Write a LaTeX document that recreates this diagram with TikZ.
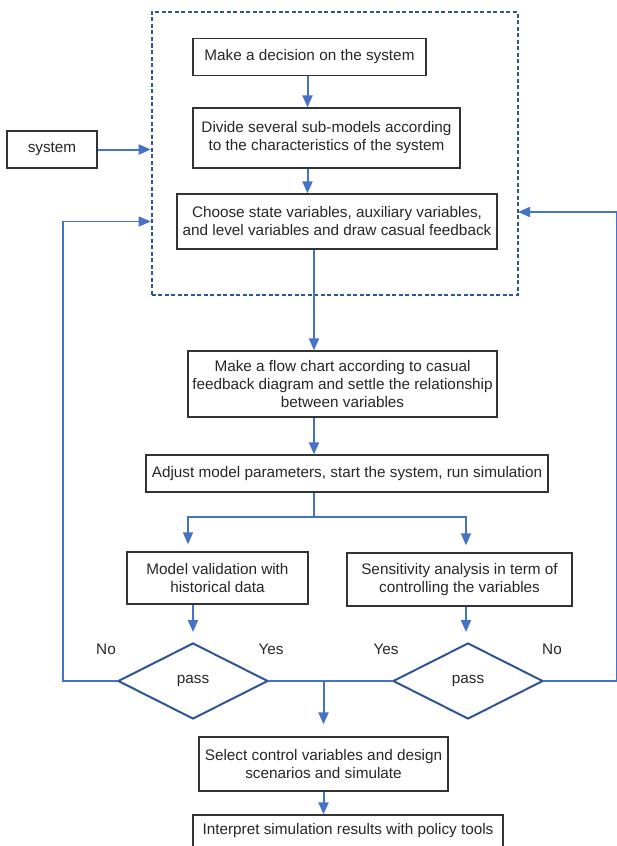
\documentclass[tikz,border=0pt]{standalone}
\usepackage{fontspec}
\setmainfont{Liberation Sans}
\usetikzlibrary{arrows.meta,shapes.geometric,calc}
\definecolor{arrblue}{HTML}{4472C4}
\definecolor{darkblue}{HTML}{2F5597}
\definecolor{txt}{HTML}{262626}
\begin{document}
\begin{tikzpicture}[x=1pt,y=-1pt,
  font=\fontsize{15.3}{18}\selectfont,
  box/.style={draw=black!80,line width=1.3pt,align=center,inner sep=0pt,text=txt},
  arr/.style={draw=arrblue,line width=2pt,-{Triangle[length=12pt,width=10pt]}},
  thin/.style={draw=arrblue,line width=1.4pt},
  thinarr/.style={thin,-{Triangle[length=12pt,width=10pt]}},
  dec/.style={draw=darkblue,line width=2pt,diamond,shape aspect=1.97,minimum width=150pt,minimum height=76pt,inner sep=0pt,text=txt},
  lbl/.style={text=txt,inner sep=0pt}]
\useasboundingbox (0,0) rectangle (616,846);
\node[draw=darkblue,line width=2pt,dash pattern=on 4pt off 2.5pt,minimum width=366pt,minimum height=283pt,inner sep=0pt] (frame) at (334.7,153.5) {};
\node[box,minimum width=233pt,minimum height=37pt] (b1) at (309.5,57) {Make a decision on the system};
\node[box,minimum width=267pt,minimum height=60pt] (b2) at (326.5,138) {Divide several sub-models according\\to the characteristics of the system};
\node[box,minimum width=320pt,minimum height=55pt] (b3) at (337,221.5) {Choose state variables, auxiliary variables,\\and level variables and draw casual feedback};
\node[box,minimum width=90pt,minimum height=37pt] (sys) at (52,149.5) {system};
\node[box,minimum width=309pt,minimum height=66pt] (b4) at (342.5,384) {Make a flow chart according to casual\\feedback diagram and settle the relationship\\between variables};
\node[box,minimum width=402pt,minimum height=37pt] (b5) at (347,473.5) {Adjust model parameters, start the system, run simulation};
\node[box,minimum width=181pt,minimum height=52pt] (b6) at (217.5,578) {Model validation with\\historical data};
\node[box,minimum width=225pt,minimum height=53pt] (b7) at (459.5,579.5) {Sensitivity analysis in term of\\controlling the variables};
\node[dec] (d1) at (193,681) {pass};
\node[dec] (d2) at (468,681) {pass};
\node[box,minimum width=249pt,minimum height=54pt] (b8) at (323.5,764) {Select control variables and design\\scenarios and simulate};
\node[box,minimum width=310pt,minimum height=32pt] (b9) at (348,831) {Interpret simulation results with policy tools};
\node[lbl] (no1) at (106,649) {No};
\node[lbl] (yes1) at (271,649) {Yes};
\node[lbl] (yes2) at (386,649) {Yes};
\node[lbl] (no2) at (552,649) {No};
\coordinate (split) at (314,517);
\coordinate (rin) at (518,212);
% connectors
\draw[arr] (b1.south -| 307.5,0) -- (b2.north -| 307.5,0);
\draw[arr] (b2.south -| 307.5,0) -- (b3.north -| 307.5,0);
\draw[arr] (b3.south -| split) -- (b4.north -| split);
\draw[arr] (b4.south -| split) -- (b5.north -| split);
\draw[arr] (sys.east) -- (frame.west |- sys.east);
\draw[thin] (b5.south -| split) -- (split);
\draw[thinarr] (split) -| ($(b6.north -| 188,0)+(0,-7)$);
\draw[thinarr] (split) -| ($(b7.north -| 466,0)+(0,-7)$);
\draw[arr,shorten >=10pt] (d1.north |- b6.south) -- (d1.north);
\draw[arr,shorten >=10pt] (b7.south -| 466,0) -- (d2.north -| 466,0);
\draw[thin] (d1.east) -- (d2.west);
\draw[arr,shorten >=12pt] (d1.east -| 323.5,0) -- (b8.north);
\draw[arr] (b8.south) -- (b8.south |- b9.north);
\draw[thinarr] (d1.west) -- ++(-54,0) |- (frame.west |- b3.west);
\draw[thinarr] (d2.east) -- ++(72.5,0) |- (rin);
\end{tikzpicture}
\end{document}
